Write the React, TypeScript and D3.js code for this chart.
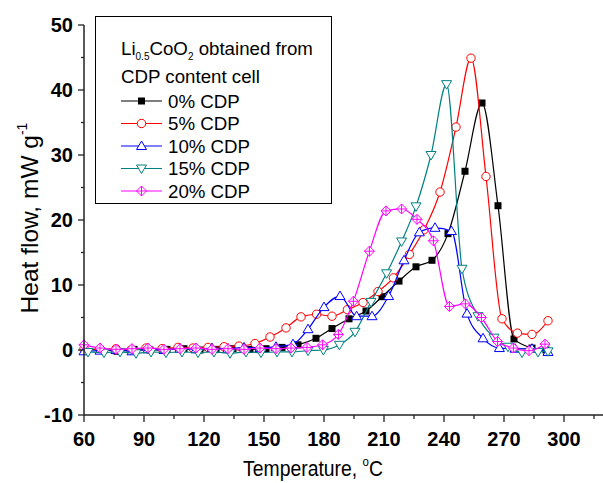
import React from "react";
import * as d3 from "d3";

// ---- data ----
const xTicks = [60, 90, 120, 150, 180, 210, 240, 270, 300];
const yTicks = [-10, 0, 10, 20, 30, 40, 50];

const cdp0T = [60, 68, 76.5, 85, 93, 101.5, 110, 118, 126, 134.5, 143, 151, 159, 167, 176, 184, 192.5, 201, 209, 217.5, 226, 234, 242, 250.5, 259, 267, 275, 284, 291];
const cdp0V = [0, 0.1, -0.2, 0.1, 0, 0.1, 0.2, 0, 0.1, 0.2, 0.1, 0.2, 0.4, 0.8, 1.8, 3.3, 4.8, 6.0, 8.2, 10.6, 12.8, 13.8, 17.9, 27.5, 38.0, 22.2, 1.7, 0.3, 0];

const cdp5T = [60, 68, 76, 83.5, 91, 99, 107, 114.5, 122, 130, 137.5, 145.5, 153, 161, 168.5, 176.3, 184, 191.7, 199.5, 207, 214.7, 222.7, 230, 238, 246, 253.5, 261, 269, 276.7, 284, 292];
const cdp5V = [0.2, 0.1, 0.2, 0, 0.3, 0.2, 0.4, 0.3, 0.4, 0.5, 0.6, 1.0, 2.0, 3.4, 5.1, 5.5, 5.2, 6.2, 7.3, 9.0, 11.1, 14.7, 18.5, 24.3, 34.3, 44.9, 26.7, 4.8, 2.6, 2.4, 4.5];

const cdp10T = [60, 68, 76, 84, 92, 100, 108, 116, 124, 132, 140, 148, 156, 164.5, 172, 180, 188, 196.3, 204, 212.3, 220, 227.7, 235.5, 243.7, 251.5, 259.5, 267.7, 275.5, 284, 292];
const cdp10V = [-0.2, -0.1, 0, -0.2, 0.1, 0, 0.2, 0.1, 0.3, 0.2, 0.4, 0.3, 0.5, 0.9, 3.2, 6.6, 8.3, 5.2, 5.2, 8.3, 13.8, 18.1, 18.8, 18.3, 5.6, 1.8, 0.3, 0.2, 0.2, -0.3];

const cdp15T = [62, 70, 78, 86, 93.5, 101, 109, 117, 125, 133, 141, 148.5, 156.5, 164, 172, 179.7, 187.7, 195.5, 203.5, 211.3, 218.8, 226, 233.5, 241.3, 249, 257, 265, 272, 279, 287, 292];
const cdp15V = [-0.3, -0.4, -0.3, -0.5, -0.3, -0.4, -0.3, -0.4, -0.3, -0.5, -0.3, -0.4, -0.3, -0.3, -0.1, 0, 0.8, 2.8, 7.4, 11.8, 16.7, 22.1, 30.0, 40.9, 12.5, 5.2, 1.9, 0.5, -0.4, -0.3, -0.2];

const cdp20T = [60, 68, 76, 84, 92, 100, 108, 116, 124, 132, 140, 148, 156, 163.5, 171.5, 179.3, 187.2, 194.7, 202.7, 211, 218.8, 226.5, 234.7, 242.7, 250.7, 258.7, 266.8, 274.7, 282.5, 290.5];
const cdp20V = [0.8, 0.3, 0.1, 0.2, 0.3, 0.1, 0.2, 0.3, 0.1, 0.2, 0.1, 0.3, 0.2, 0.3, 0.4, 0.8, 2.4, 7.5, 15.2, 21.4, 21.7, 20.1, 16.8, 6.7, 7.1, 5.0, 1.3, 0.3, -0.1, 0.9];

const seriesNames = ["0% CDP", "5% CDP", "10% CDP", "15% CDP", "20% CDP"];
const seriesColors = ["#000000", "#ff0000", "#0000ff", "#008080", "#ff00ff"];
const seriesShapes = ["square", "circle", "triangle", "triangleDown", "diamondCross"];
const seriesT = [cdp0T, cdp5T, cdp10T, cdp15T, cdp20T];
const seriesV = [cdp0V, cdp5V, cdp10V, cdp15V, cdp20V];

const FONT = "'Liberation Sans', Arial, Helvetica, sans-serif";

function Marker({ shape, cx, cy, color }: { shape: string; cx: number; cy: number; color: string }) {
  switch (shape) {
    case "square":
      return <rect x={cx - 3.5} y={cy - 3.5} width={7} height={7} fill={color} />;
    case "circle":
      return <circle cx={cx} cy={cy} r={4.2} fill="#fff" stroke={color} strokeWidth={1} />;
    case "triangle":
      return (
        <path d={`M${cx},${cy - 5}L${cx + 5},${cy + 3.5}L${cx - 5},${cy + 3.5}Z`} fill="#fff" stroke={color} strokeWidth={1} />
      );
    case "triangleDown":
      return (
        <path d={`M${cx},${cy + 5}L${cx + 5},${cy - 3.5}L${cx - 5},${cy - 3.5}Z`} fill="#fff" stroke={color} strokeWidth={1} />
      );
    case "diamondCross":
      return (
        <g>
          <path d={`M${cx},${cy - 5}L${cx + 5},${cy}L${cx},${cy + 5}L${cx - 5},${cy}Z`} fill="#fff" stroke={color} strokeWidth={1} />
          <path d={`M${cx - 5},${cy}L${cx + 5},${cy}M${cx},${cy - 5}L${cx},${cy + 5}`} stroke={color} strokeWidth={1} />
        </g>
      );
    default:
      return null;
  }
}

export default function App() {
  const W = 603;
  const H = 483;
  const x = d3.scaleLinear().domain([60, 320]).range([84, 604]);
  const y = d3.scaleLinear().domain([-10, 50]).range([415, 25]);

  const line = d3
    .line<[number, number]>()
    .x((d) => x(d[0]))
    .y((d) => y(d[1]))
    .curve(d3.curveMonotoneX);

  const xMinor = d3.range(60, 321, 15);
  const yMinor = d3.range(-10, 51, 5);
  const axisColor = "#222";

  const legendRows = [101, 123.5, 146, 168.5, 191];

  return (
    <svg
      width={W}
      height={H}
      style={{ position: "absolute", left: 0, top: 0, background: "#fff" }}
      fontFamily={FONT}
    >
      <rect x={0} y={0} width={W} height={H} fill="#fff" />
      {/* series */}
      {seriesT.map((ts, i) => {
        const pts: [number, number][] = ts.map((t, j) => [t, seriesV[i][j]]);
        return (
          <g key={i}>
            <path d={line(pts) || ""} fill="none" stroke={seriesColors[i]} strokeWidth={1.2} />
            {pts.map((p, j) => (
              <Marker key={j} shape={seriesShapes[i]} cx={x(p[0])} cy={y(p[1])} color={seriesColors[i]} />
            ))}
          </g>
        );
      })}

      {/* axes */}
      <line x1={84} x2={84} y1={y(50)} y2={y(-10)} stroke={axisColor} strokeWidth={1.5} />
      <line x1={84} x2={603} y1={y(-10)} y2={y(-10)} stroke={axisColor} strokeWidth={1.5} />
      {yMinor.map((v) => (
        <line key={"ym" + v} x1={84} x2={v % 10 === 0 ? 78 : 81} y1={y(v)} y2={y(v)} stroke={axisColor} strokeWidth={1.3} />
      ))}
      {xMinor.map((t) => (
        <line key={"xm" + t} x1={x(t)} x2={x(t)} y1={y(-10)} y2={y(-10) + (t % 30 === 0 ? 7 : 4)} stroke={axisColor} strokeWidth={1.3} />
      ))}
      {yTicks.map((v) => (
        <text key={"yt" + v} x={73} y={y(v) + 7} textAnchor="end" fontSize={20} fontWeight="bold" fill="#000">
          {v}
        </text>
      ))}
      {xTicks.map((t) => (
        <text key={"xt" + t} x={x(t)} y={446} textAnchor="middle" fontSize={20} fontWeight="bold" fill="#000">
          {t}
        </text>
      ))}

      {/* axis titles */}
      <text transform="translate(313,476) scale(0.88,1)" textAnchor="middle" fontSize={22} fill="#000">
        Temperature, <tspan fontSize={13} dy={-10}>o</tspan>
        <tspan dy={10}>C</tspan>
      </text>
      <text transform="translate(38,218) rotate(-90)" textAnchor="middle" fontSize={24.5} fill="#000">
        Heat flow, mW g<tspan fontSize={14} dy={-11}>-1</tspan>
      </text>

      {/* legend */}
      <rect x={95.5} y={16.5} width={236} height={187} fill="none" stroke="#000" strokeWidth={1} />
      <text x={121} y={55} fontSize={18.7} fill="#000">
        Li<tspan fontSize={10} dy={5}>0.5</tspan>
        <tspan dy={-5}>CoO</tspan>
        <tspan fontSize={10} dy={5}>2</tspan>
        <tspan dy={-5}> obtained from</tspan>
      </text>
      <text x={121} y={83} fontSize={18.7} fill="#000">
        CDP content cell
      </text>
      {seriesNames.map((name, i) => (
        <g key={"lg" + i}>
          <line x1={121} x2={162} y1={legendRows[i]} y2={legendRows[i]} stroke={seriesColors[i]} strokeWidth={1.2} />
          <Marker shape={seriesShapes[i]} cx={141.5} cy={legendRows[i]} color={seriesColors[i]} />
          <text x={168} y={legendRows[i] + 6.5} fontSize={18.7} fill="#000">
            {name}
          </text>
        </g>
      ))}
    </svg>
  );
}
